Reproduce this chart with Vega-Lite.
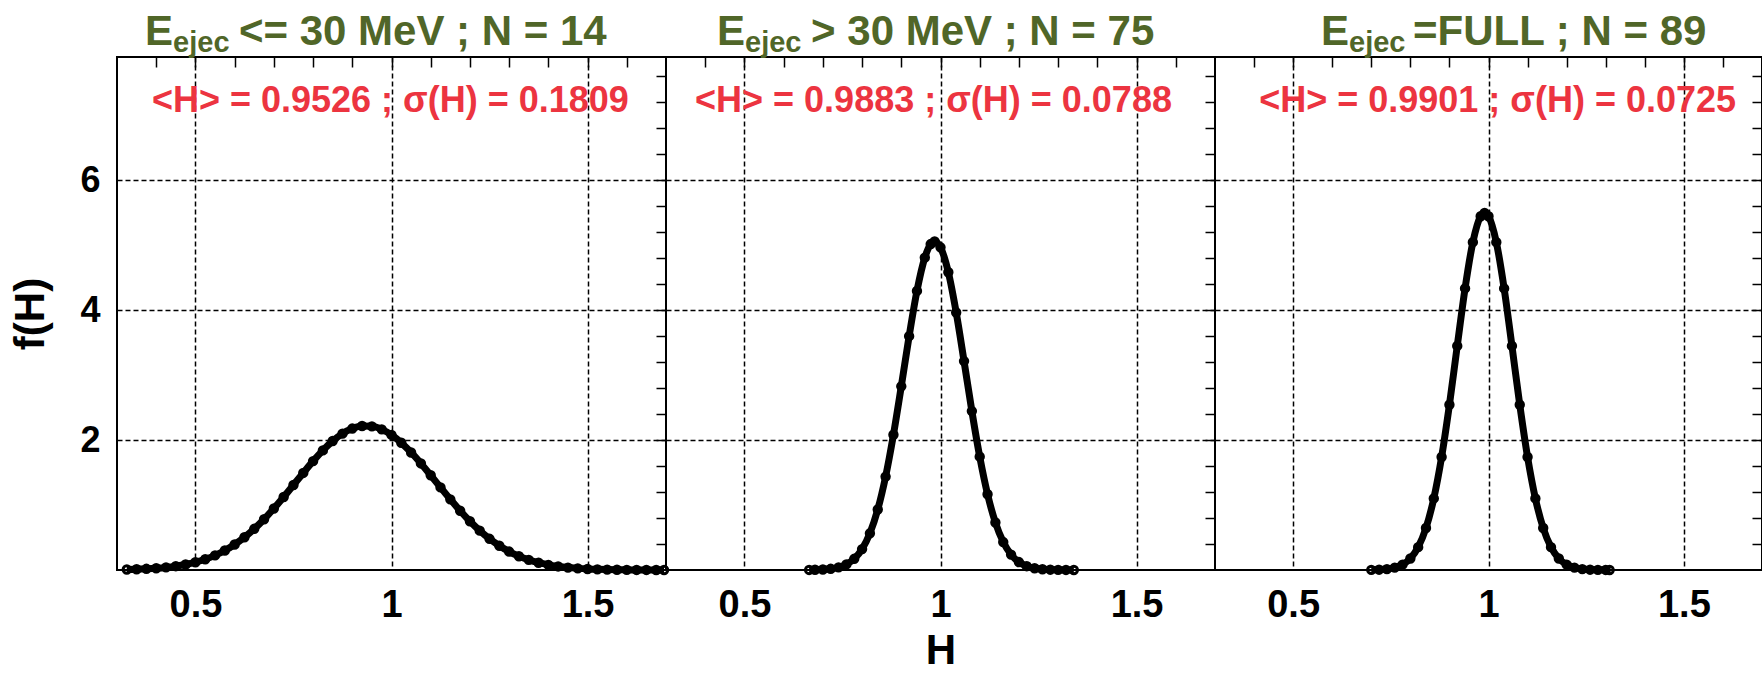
{
  "$schema": "https://vega.github.io/schema/vega-lite/v6.json",
  "padding": {"left": 8, "top": 9, "right": 0, "bottom": 0},
  "spacing": 0,
  "bounds": "flush",
  "datasets": {
    "labels": [
      {"panel": 1, "stat": "<H> = 0.9526 ; σ(H) = 0.1809", "big": "E", "sub": "ejec", "cut": "<= 30 MeV ; N = 14"},
      {"panel": 2, "stat": "<H> = 0.9883 ; σ(H) = 0.0788", "big": "E", "sub": "ejec", "cut": "> 30 MeV ; N = 75"},
      {"panel": 3, "stat": "<H> = 0.9901 ; σ(H) = 0.0725", "big": "E", "sub": "ejec", "cut": "=FULL ; N = 89"}
    ],
    "curves": [
      {"panel": 1, "H": 0.325, "f": 0.007}, {"panel": 1, "H": 0.35, "f": 0.011}, {"panel": 1, "H": 0.375, "f": 0.018},
      {"panel": 1, "H": 0.4, "f": 0.027}, {"panel": 1, "H": 0.425, "f": 0.04}, {"panel": 1, "H": 0.45, "f": 0.059},
      {"panel": 1, "H": 0.475, "f": 0.085}, {"panel": 1, "H": 0.5, "f": 0.12}, {"panel": 1, "H": 0.525, "f": 0.166},
      {"panel": 1, "H": 0.55, "f": 0.225}, {"panel": 1, "H": 0.575, "f": 0.3}, {"panel": 1, "H": 0.6, "f": 0.393},
      {"panel": 1, "H": 0.625, "f": 0.504}, {"panel": 1, "H": 0.65, "f": 0.634}, {"panel": 1, "H": 0.675, "f": 0.782},
      {"panel": 1, "H": 0.7, "f": 0.947}, {"panel": 1, "H": 0.725, "f": 1.124}, {"panel": 1, "H": 0.75, "f": 1.309},
      {"panel": 1, "H": 0.775, "f": 1.495}, {"panel": 1, "H": 0.8, "f": 1.676}, {"panel": 1, "H": 0.825, "f": 1.842},
      {"panel": 1, "H": 0.85, "f": 1.986}, {"panel": 1, "H": 0.875, "f": 2.1}, {"panel": 1, "H": 0.9, "f": 2.178},
      {"panel": 1, "H": 0.925, "f": 2.217}, {"panel": 1, "H": 0.95, "f": 2.212}, {"panel": 1, "H": 0.975, "f": 2.166},
      {"panel": 1, "H": 1.0, "f": 2.08}, {"panel": 1, "H": 1.025, "f": 1.959}, {"panel": 1, "H": 1.05, "f": 1.81},
      {"panel": 1, "H": 1.075, "f": 1.641}, {"panel": 1, "H": 1.1, "f": 1.459}, {"panel": 1, "H": 1.125, "f": 1.272},
      {"panel": 1, "H": 1.15, "f": 1.088}, {"panel": 1, "H": 1.175, "f": 0.913}, {"panel": 1, "H": 1.2, "f": 0.751},
      {"panel": 1, "H": 1.225, "f": 0.606}, {"panel": 1, "H": 1.25, "f": 0.48}, {"panel": 1, "H": 1.275, "f": 0.373},
      {"panel": 1, "H": 1.3, "f": 0.284}, {"panel": 1, "H": 1.325, "f": 0.212}, {"panel": 1, "H": 1.35, "f": 0.156},
      {"panel": 1, "H": 1.375, "f": 0.112}, {"panel": 1, "H": 1.4, "f": 0.079}, {"panel": 1, "H": 1.425, "f": 0.055},
      {"panel": 1, "H": 1.45, "f": 0.037}, {"panel": 1, "H": 1.475, "f": 0.025}, {"panel": 1, "H": 1.5, "f": 0.016},
      {"panel": 1, "H": 1.525, "f": 0.01}, {"panel": 1, "H": 1.55, "f": 0.006}, {"panel": 1, "H": 1.575, "f": 0.004},
      {"panel": 1, "H": 1.6, "f": 0.002}, {"panel": 1, "H": 1.625, "f": 0.001}, {"panel": 1, "H": 1.65, "f": 0.001},
      {"panel": 1, "H": 1.675, "f": 0.0}, {"panel": 1, "H": 1.695, "f": 0.0},

      {"panel": 2, "H": 0.665, "f": 0.001}, {"panel": 2, "H": 0.68, "f": 0.003}, {"panel": 2, "H": 0.7, "f": 0.007},
      {"panel": 2, "H": 0.72, "f": 0.018}, {"panel": 2, "H": 0.74, "f": 0.04}, {"panel": 2, "H": 0.76, "f": 0.086},
      {"panel": 2, "H": 0.78, "f": 0.172}, {"panel": 2, "H": 0.8, "f": 0.322}, {"panel": 2, "H": 0.82, "f": 0.565},
      {"panel": 2, "H": 0.84, "f": 0.931}, {"panel": 2, "H": 0.86, "f": 1.438}, {"panel": 2, "H": 0.88, "f": 2.083},
      {"panel": 2, "H": 0.9, "f": 2.828}, {"panel": 2, "H": 0.92, "f": 3.601}, {"panel": 2, "H": 0.94, "f": 4.298},
      {"panel": 2, "H": 0.96, "f": 4.811}, {"panel": 2, "H": 0.975, "f": 5.019}, {"panel": 2, "H": 0.985, "f": 5.06},
      {"panel": 2, "H": 1.0, "f": 4.969}, {"panel": 2, "H": 1.02, "f": 4.585}, {"panel": 2, "H": 1.04, "f": 3.966},
      {"panel": 2, "H": 1.06, "f": 3.217}, {"panel": 2, "H": 1.08, "f": 2.447}, {"panel": 2, "H": 1.1, "f": 1.745},
      {"panel": 2, "H": 1.12, "f": 1.166}, {"panel": 2, "H": 1.14, "f": 0.731}, {"panel": 2, "H": 1.16, "f": 0.43},
      {"panel": 2, "H": 1.18, "f": 0.237}, {"panel": 2, "H": 1.2, "f": 0.122}, {"panel": 2, "H": 1.22, "f": 0.059},
      {"panel": 2, "H": 1.24, "f": 0.027}, {"panel": 2, "H": 1.26, "f": 0.011}, {"panel": 2, "H": 1.28, "f": 0.005},
      {"panel": 2, "H": 1.3, "f": 0.002}, {"panel": 2, "H": 1.32, "f": 0.001}, {"panel": 2, "H": 1.34, "f": 0.0},

      {"panel": 3, "H": 0.7, "f": 0.002}, {"panel": 3, "H": 0.72, "f": 0.005}, {"panel": 3, "H": 0.74, "f": 0.014},
      {"panel": 3, "H": 0.76, "f": 0.036}, {"panel": 3, "H": 0.78, "f": 0.083}, {"panel": 3, "H": 0.8, "f": 0.177},
      {"panel": 3, "H": 0.82, "f": 0.352}, {"panel": 3, "H": 0.84, "f": 0.647}, {"panel": 3, "H": 0.86, "f": 1.102},
      {"panel": 3, "H": 0.88, "f": 1.74}, {"panel": 3, "H": 0.9, "f": 2.545}, {"panel": 3, "H": 0.92, "f": 3.451},
      {"panel": 3, "H": 0.94, "f": 4.336}, {"panel": 3, "H": 0.96, "f": 5.049}, {"panel": 3, "H": 0.98, "f": 5.448},
      {"panel": 3, "H": 0.99, "f": 5.5}, {"panel": 3, "H": 1.0, "f": 5.448}, {"panel": 3, "H": 1.02, "f": 5.049},
      {"panel": 3, "H": 1.04, "f": 4.336}, {"panel": 3, "H": 1.06, "f": 3.451}, {"panel": 3, "H": 1.08, "f": 2.545},
      {"panel": 3, "H": 1.1, "f": 1.74}, {"panel": 3, "H": 1.12, "f": 1.102}, {"panel": 3, "H": 1.14, "f": 0.647},
      {"panel": 3, "H": 1.16, "f": 0.352}, {"panel": 3, "H": 1.18, "f": 0.177}, {"panel": 3, "H": 1.2, "f": 0.083},
      {"panel": 3, "H": 1.22, "f": 0.036}, {"panel": 3, "H": 1.24, "f": 0.014}, {"panel": 3, "H": 1.26, "f": 0.005},
      {"panel": 3, "H": 1.28, "f": 0.002}, {"panel": 3, "H": 1.3, "f": 0.001}, {"panel": 3, "H": 1.31, "f": 0.0}
    ]
  },
  "hconcat": [
    {
      "width": 549, "height": 513,
      "layer": [
        {"data": {"name": "curves"}, "transform": [{"filter": "datum.panel == 1"}],
         "mark": {"type": "line", "color": "black", "strokeWidth": 7, "interpolate": "monotone"},
         "encoding": {
           "x": {"field": "H", "type": "quantitative", "scale": {"domain": [0.3, 1.7], "nice": false, "zero": false},
                 "axis": {"values": [0.5, 1, 1.5], "format": "~f", "grid": true, "gridColor": "black", "gridDash": [5, 3], "gridWidth": 1.5, "gridOpacity": 1, "ticks": false, "labelFontSize": 38, "labelPadding": 16, "title": null}},
           "y": {"field": "f", "type": "quantitative", "scale": {"domain": [0, 7.9], "nice": false, "zero": false},
                 "axis": {"values": [2, 4, 6], "format": "d", "grid": true, "gridColor": "black", "gridDash": [5, 3], "gridWidth": 1.5, "gridOpacity": 1, "ticks": false, "labelFontSize": 36, "labelPadding": 17, "title": "f(H)", "titleFontSize": 42, "titlePadding": 27}}
         }},
        {"data": {"name": "curves"}, "transform": [{"filter": "datum.panel == 1"}],
         "mark": {"type": "point", "shape": "circle", "filled": false, "size": 55, "strokeWidth": 3, "color": "black", "opacity": 1},
         "encoding": {"x": {"field": "H", "type": "quantitative", "axis": null}, "y": {"field": "f", "type": "quantitative", "axis": null}}},
        {"data": {"name": "labels"}, "transform": [{"filter": "datum.panel == 1"}],
         "mark": {"type": "text", "align": "left", "baseline": "middle", "font": "Liberation Sans", "fontWeight": "bold", "fontSize": 36, "color": "#ec3440"},
         "encoding": {
           "x": {"datum": 0.389, "type": "quantitative", "axis": {"values": [0.4, 0.5, 0.6, 0.7, 0.8, 0.9, 1.0, 1.1, 1.2, 1.3, 1.4, 1.5, 1.6], "ticks": true, "tickSize": -10, "tickWidth": 1.5, "tickColor": "black", "labels": false, "grid": false, "title": null}},
           "y": {"datum": 7.222, "type": "quantitative", "axis": {"values": [0.4, 0.8, 1.2, 1.6, 2.0, 2.4, 2.8, 3.2, 3.6, 4.0, 4.4, 4.8, 5.2, 5.6, 6.0, 6.4, 6.8, 7.2, 7.6], "ticks": true, "tickSize": -10, "tickWidth": 1.5, "tickColor": "black", "labels": false, "grid": false, "title": null}},
           "text": {"field": "stat"}}},
        {"data": {"name": "labels"}, "transform": [{"filter": "datum.panel == 1"}],
         "mark": {"type": "text", "align": "right", "baseline": "alphabetic", "font": "Liberation Sans", "fontWeight": "bold", "fontSize": 42, "color": "#506628"},
         "encoding": {"x": {"datum": 0.443, "type": "quantitative", "axis": null}, "y": {"datum": 8.085, "type": "quantitative", "axis": null}, "text": {"field": "big"}}},
        {"data": {"name": "labels"}, "transform": [{"filter": "datum.panel == 1"}],
         "mark": {"type": "text", "align": "left", "baseline": "alphabetic", "font": "Liberation Sans", "fontWeight": "bold", "fontSize": 29, "color": "#506628"},
         "encoding": {"x": {"datum": 0.443, "type": "quantitative", "axis": null}, "y": {"datum": 7.977, "type": "quantitative", "axis": null}, "text": {"field": "sub"}}},
        {"data": {"name": "labels"}, "transform": [{"filter": "datum.panel == 1"}],
         "mark": {"type": "text", "align": "left", "baseline": "alphabetic", "font": "Liberation Sans", "fontWeight": "bold", "fontSize": 42, "color": "#506628"},
         "encoding": {"x": {"datum": 0.611, "type": "quantitative", "axis": null}, "y": {"datum": 8.085, "type": "quantitative", "axis": null}, "text": {"field": "cut"}}}
      ],
      "resolve": {"axis": {"x": "independent", "y": "independent"}}
    },
    {
      "width": 549, "height": 513,
      "layer": [
        {"data": {"name": "curves"}, "transform": [{"filter": "datum.panel == 2"}],
         "mark": {"type": "line", "color": "black", "strokeWidth": 7, "interpolate": "monotone"},
         "encoding": {
           "x": {"field": "H", "type": "quantitative", "scale": {"domain": [0.3, 1.7], "nice": false, "zero": false},
                 "axis": {"values": [0.5, 1, 1.5], "format": "~f", "grid": true, "gridColor": "black", "gridDash": [5, 3], "gridWidth": 1.5, "gridOpacity": 1, "ticks": false, "labelFontSize": 38, "labelPadding": 16, "title": "H", "titleFontSize": 42, "titlePadding": 6}},
           "y": {"field": "f", "type": "quantitative", "scale": {"domain": [0, 7.9], "nice": false, "zero": false},
                 "axis": {"values": [2, 4, 6], "grid": true, "gridColor": "black", "gridDash": [5, 3], "gridWidth": 1.5, "gridOpacity": 1, "ticks": false, "labels": false, "title": null}}
         }},
        {"data": {"name": "curves"}, "transform": [{"filter": "datum.panel == 2"}],
         "mark": {"type": "point", "shape": "circle", "filled": false, "size": 55, "strokeWidth": 3, "color": "black", "opacity": 1},
         "encoding": {"x": {"field": "H", "type": "quantitative", "axis": null}, "y": {"field": "f", "type": "quantitative", "axis": null}}},
        {"data": {"name": "labels"}, "transform": [{"filter": "datum.panel == 2"}],
         "mark": {"type": "text", "align": "left", "baseline": "middle", "font": "Liberation Sans", "fontWeight": "bold", "fontSize": 36, "color": "#ec3440"},
         "encoding": {
           "x": {"datum": 0.374, "type": "quantitative", "axis": {"values": [0.4, 0.5, 0.6, 0.7, 0.8, 0.9, 1.0, 1.1, 1.2, 1.3, 1.4, 1.5, 1.6], "ticks": true, "tickSize": -10, "tickWidth": 1.5, "tickColor": "black", "labels": false, "grid": false, "title": null}},
           "y": {"datum": 7.222, "type": "quantitative", "axis": {"values": [0.4, 0.8, 1.2, 1.6, 2.0, 2.4, 2.8, 3.2, 3.6, 4.0, 4.4, 4.8, 5.2, 5.6, 6.0, 6.4, 6.8, 7.2, 7.6], "ticks": true, "tickSize": -10, "tickWidth": 1.5, "tickColor": "black", "labels": false, "grid": false, "title": null}},
           "text": {"field": "stat"}}},
        {"data": {"name": "labels"}, "transform": [{"filter": "datum.panel == 2"}],
         "mark": {"type": "text", "align": "right", "baseline": "alphabetic", "font": "Liberation Sans", "fontWeight": "bold", "fontSize": 42, "color": "#506628"},
         "encoding": {"x": {"datum": 0.5015, "type": "quantitative", "axis": null}, "y": {"datum": 8.085, "type": "quantitative", "axis": null}, "text": {"field": "big"}}},
        {"data": {"name": "labels"}, "transform": [{"filter": "datum.panel == 2"}],
         "mark": {"type": "text", "align": "left", "baseline": "alphabetic", "font": "Liberation Sans", "fontWeight": "bold", "fontSize": 29, "color": "#506628"},
         "encoding": {"x": {"datum": 0.5015, "type": "quantitative", "axis": null}, "y": {"datum": 7.977, "type": "quantitative", "axis": null}, "text": {"field": "sub"}}},
        {"data": {"name": "labels"}, "transform": [{"filter": "datum.panel == 2"}],
         "mark": {"type": "text", "align": "left", "baseline": "alphabetic", "font": "Liberation Sans", "fontWeight": "bold", "fontSize": 42, "color": "#506628"},
         "encoding": {"x": {"datum": 0.67, "type": "quantitative", "axis": null}, "y": {"datum": 8.085, "type": "quantitative", "axis": null}, "text": {"field": "cut"}}}
      ],
      "resolve": {"axis": {"x": "independent", "y": "independent"}}
    },
    {
      "width": 547, "height": 513,
      "layer": [
        {"data": {"name": "curves"}, "transform": [{"filter": "datum.panel == 3"}],
         "mark": {"type": "line", "color": "black", "strokeWidth": 7, "interpolate": "monotone"},
         "encoding": {
           "x": {"field": "H", "type": "quantitative", "scale": {"domain": [0.3, 1.7], "nice": false, "zero": false},
                 "axis": {"values": [0.5, 1, 1.5], "format": "~f", "grid": true, "gridColor": "black", "gridDash": [5, 3], "gridWidth": 1.5, "gridOpacity": 1, "ticks": false, "labelFontSize": 38, "labelPadding": 16, "title": null}},
           "y": {"field": "f", "type": "quantitative", "scale": {"domain": [0, 7.9], "nice": false, "zero": false},
                 "axis": {"values": [2, 4, 6], "grid": true, "gridColor": "black", "gridDash": [5, 3], "gridWidth": 1.5, "gridOpacity": 1, "ticks": false, "labels": false, "title": null}}
         }},
        {"data": {"name": "curves"}, "transform": [{"filter": "datum.panel == 3"}],
         "mark": {"type": "point", "shape": "circle", "filled": false, "size": 55, "strokeWidth": 3, "color": "black", "opacity": 1},
         "encoding": {"x": {"field": "H", "type": "quantitative", "axis": null}, "y": {"field": "f", "type": "quantitative", "axis": null}}},
        {"data": {"name": "labels"}, "transform": [{"filter": "datum.panel == 3"}],
         "mark": {"type": "text", "align": "left", "baseline": "middle", "font": "Liberation Sans", "fontWeight": "bold", "fontSize": 36, "color": "#ec3440"},
         "encoding": {
           "x": {"datum": 0.413, "type": "quantitative", "axis": {"values": [0.4, 0.5, 0.6, 0.7, 0.8, 0.9, 1.0, 1.1, 1.2, 1.3, 1.4, 1.5, 1.6], "ticks": true, "tickSize": -10, "tickWidth": 1.5, "tickColor": "black", "labels": false, "grid": false, "title": null}},
           "y": {"datum": 7.222, "type": "quantitative", "axis": {"values": [0.4, 0.8, 1.2, 1.6, 2.0, 2.4, 2.8, 3.2, 3.6, 4.0, 4.4, 4.8, 5.2, 5.6, 6.0, 6.4, 6.8, 7.2, 7.6], "ticks": true, "tickSize": -10, "tickWidth": 1.5, "tickColor": "black", "labels": false, "grid": false, "title": null}},
           "text": {"field": "stat"}}},
        {"data": {"name": "labels"}, "transform": [{"filter": "datum.panel == 3"}],
         "mark": {"type": "text", "align": "right", "baseline": "alphabetic", "font": "Liberation Sans", "fontWeight": "bold", "fontSize": 42, "color": "#506628"},
         "encoding": {"x": {"datum": 0.643, "type": "quantitative", "axis": null}, "y": {"datum": 8.085, "type": "quantitative", "axis": null}, "text": {"field": "big"}}},
        {"data": {"name": "labels"}, "transform": [{"filter": "datum.panel == 3"}],
         "mark": {"type": "text", "align": "left", "baseline": "alphabetic", "font": "Liberation Sans", "fontWeight": "bold", "fontSize": 29, "color": "#506628"},
         "encoding": {"x": {"datum": 0.643, "type": "quantitative", "axis": null}, "y": {"datum": 7.977, "type": "quantitative", "axis": null}, "text": {"field": "sub"}}},
        {"data": {"name": "labels"}, "transform": [{"filter": "datum.panel == 3"}],
         "mark": {"type": "text", "align": "left", "baseline": "alphabetic", "font": "Liberation Sans", "fontWeight": "bold", "fontSize": 42, "color": "#506628"},
         "encoding": {"x": {"datum": 0.807, "type": "quantitative", "axis": null}, "y": {"datum": 8.085, "type": "quantitative", "axis": null}, "text": {"field": "cut"}}}
      ],
      "resolve": {"axis": {"x": "independent", "y": "independent"}}
    }
  ],
  "config": {
    "view": {"stroke": "black", "strokeWidth": 2},
    "axis": {"domain": false, "labelFont": "Liberation Sans", "labelFontWeight": "bold", "labelColor": "black", "titleFont": "Liberation Sans", "titleFontWeight": "bold", "titleColor": "black"}
  }
}
